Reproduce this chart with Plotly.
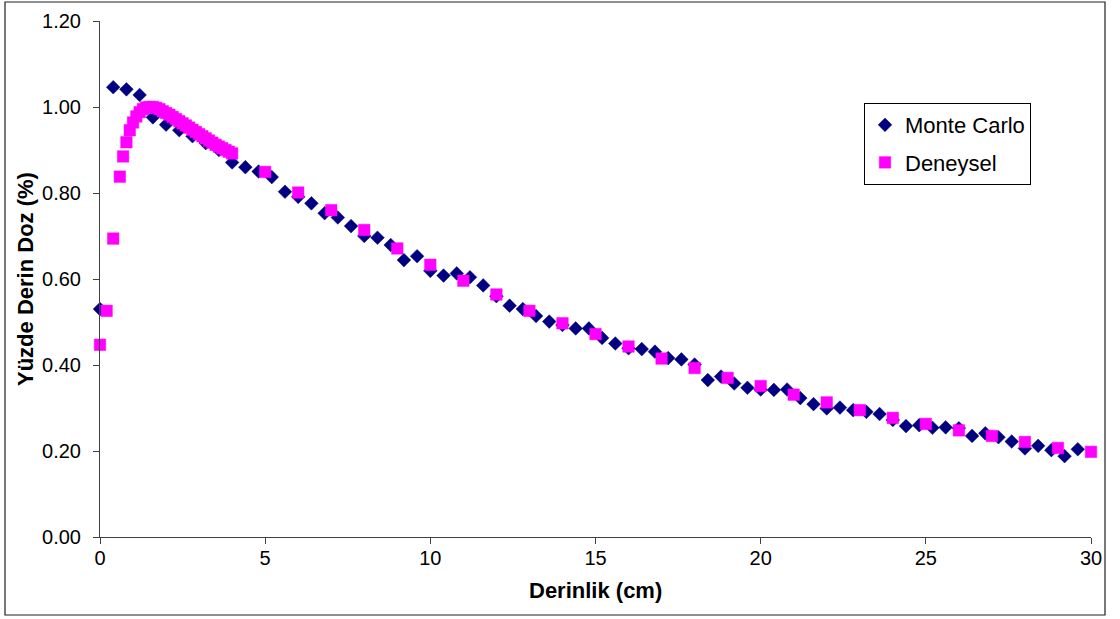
import plotly.graph_objects as go

# ---- data ----
mc_depth = [0.0, 0.4, 0.8, 1.2, 1.6, 2.0, 2.4, 2.8, 3.2, 3.6, 4.0, 4.4, 4.8, 5.2, 5.6, 6.0,
            6.4, 6.8, 7.2, 7.6, 8.0, 8.4, 8.8, 9.2, 9.6, 10.0, 10.4, 10.8, 11.2, 11.6,
            12.0, 12.4, 12.8, 13.2, 13.6, 14.0, 14.4, 14.8, 15.2, 15.6, 16.0, 16.4, 16.8,
            17.2, 17.6, 18.0, 18.4, 18.8, 19.2, 19.6, 20.0, 20.4, 20.8, 21.2, 21.6, 22.0,
            22.4, 22.8, 23.2, 23.6, 24.0, 24.4, 24.8, 25.2, 25.6, 26.0, 26.4, 26.8, 27.2,
            27.6, 28.0, 28.4, 28.8, 29.2, 29.6]
mc_dose = [0.530, 1.046, 1.041, 1.028, 0.976, 0.959, 0.946, 0.932, 0.916, 0.900, 0.871, 0.860,
           0.850, 0.837, 0.803, 0.791, 0.776, 0.753, 0.743, 0.723, 0.700, 0.696, 0.679, 0.644,
           0.653, 0.619, 0.608, 0.613, 0.604, 0.585, 0.560, 0.538, 0.530, 0.514, 0.501, 0.493,
           0.485, 0.485, 0.463, 0.450, 0.439, 0.437, 0.431, 0.416, 0.413, 0.401, 0.365, 0.373,
           0.357, 0.347, 0.343, 0.342, 0.343, 0.323, 0.309, 0.299, 0.301, 0.295, 0.291, 0.286,
           0.272, 0.258, 0.260, 0.254, 0.255, 0.253, 0.235, 0.241, 0.232, 0.222, 0.206, 0.212,
           0.202, 0.188, 0.204]

exp_depth = [0.0, 0.2, 0.4, 0.6, 0.7, 0.8, 0.9, 1.0, 1.1, 1.2, 1.3, 1.4, 1.5, 1.6, 1.7, 1.8,
             1.9, 2.0, 2.1, 2.2, 2.3, 2.4, 2.5, 2.6, 2.7, 2.8, 2.9, 3.0, 3.1, 3.2, 3.3, 3.4,
             3.5, 3.6, 3.7, 3.8, 3.9, 4.0, 5, 6, 7, 8, 9, 10, 11, 12, 13, 14, 15, 16, 17,
             18, 19, 20, 21, 22, 23, 24, 25, 26, 27, 28, 29, 30]
exp_dose = [0.447, 0.526, 0.694, 0.838, 0.885, 0.918, 0.946, 0.964, 0.978, 0.988, 0.995,
            0.999, 1.000, 1.000, 0.998, 0.995, 0.990, 0.986, 0.982, 0.977, 0.972, 0.967,
            0.962, 0.957, 0.952, 0.947, 0.942, 0.937, 0.932, 0.927, 0.922, 0.917, 0.912,
            0.908, 0.904, 0.900, 0.896, 0.892, 0.849, 0.801, 0.760, 0.714, 0.671, 0.633,
            0.596, 0.564, 0.526, 0.497, 0.472, 0.443, 0.415, 0.393, 0.370, 0.351, 0.331,
            0.313, 0.295, 0.277, 0.263, 0.248, 0.235, 0.221, 0.207, 0.198]

x_ticks = [0, 5, 10, 15, 20, 25, 30]
y_ticks = [0.0, 0.2, 0.4, 0.6, 0.8, 1.0, 1.2]

# ---- layout geometry (pixels) ----
W, H = 1120, 619
L, R, T, B = 100, 1091, 21, 537


def px_x(p):
    return (p - L) / (R - L)


def px_y(p):
    return (B - p) / (B - T)


FONT = "Liberation Sans, Arial, sans-serif"

fig = go.Figure()
fig.add_trace(go.Scatter(
    x=mc_depth, y=mc_dose, mode="markers", name="Monte Carlo", legendgroup="mc",
    marker=dict(symbol="diamond", size=10.5, color="#000080",
                line=dict(color="#000080", width=0.5)),
    cliponaxis=False))
fig.add_trace(go.Scatter(
    x=exp_depth, y=exp_dose, mode="markers", name="Deneysel", legendgroup="exp",
    marker=dict(symbol="square", size=11.5, color="#FF00FF",
                line=dict(color="#FF00FF", width=0.5)),
    cliponaxis=False))

fig.update_layout(
    width=W, height=H,
    margin=dict(l=L, r=W - R, t=T, b=H - B, autoexpand=False),
    paper_bgcolor="white", plot_bgcolor="white",
    font=dict(family=FONT, size=20, color="black"),
    showlegend=True,
    legend=dict(
        x=px_x(864), y=px_y(103), xanchor="left", yanchor="top",
        bgcolor="white", bordercolor="#000000", borderwidth=1,
        font=dict(family=FONT, size=22, color="black"),
        tracegroupgap=6, traceorder="grouped", itemwidth=30),
    xaxis=dict(
        range=[0, 30], tickvals=x_ticks, ticktext=[str(v) for v in x_ticks],
        showgrid=False, zeroline=False, showline=True, linecolor="#404040", linewidth=1,
        ticks="outside", ticklen=6, tickcolor="#404040", ticklabelstandoff=-3,
        tickfont=dict(family=FONT, size=20, color="black")),
    yaxis=dict(
        range=[0, 1.2], tickvals=y_ticks, ticktext=[f"{v:.2f}" for v in y_ticks],
        showgrid=False, zeroline=False, showline=True, linecolor="#404040", linewidth=1,
        ticks="outside", ticklen=6, tickcolor="#404040", ticklabelstandoff=8,
        tickfont=dict(family=FONT, size=20, color="black")),
    annotations=[
        dict(text="<b>Derinlik (cm)</b>", xref="paper", yref="paper",
             x=px_x(595), y=px_y(590), xanchor="center", yanchor="middle",
             showarrow=False, font=dict(family=FONT, size=22, color="black")),
        dict(text="<b>Yüzde Derin Doz (%)</b>", xref="paper", yref="paper",
             x=px_x(25), y=px_y(279), xanchor="center", yanchor="middle", textangle=-90,
             showarrow=False, font=dict(family=FONT, size=22, color="black")),
    ],
    shapes=[
        dict(type="rect", xref="paper", yref="paper",
             x0=px_x(5), x1=px_x(1105), y0=px_y(615), y1=px_y(2),
             line=dict(color="#202020", width=1.2), fillcolor="rgba(0,0,0,0)", layer="below"),
    ],
)

fig.write_html("out.html")
